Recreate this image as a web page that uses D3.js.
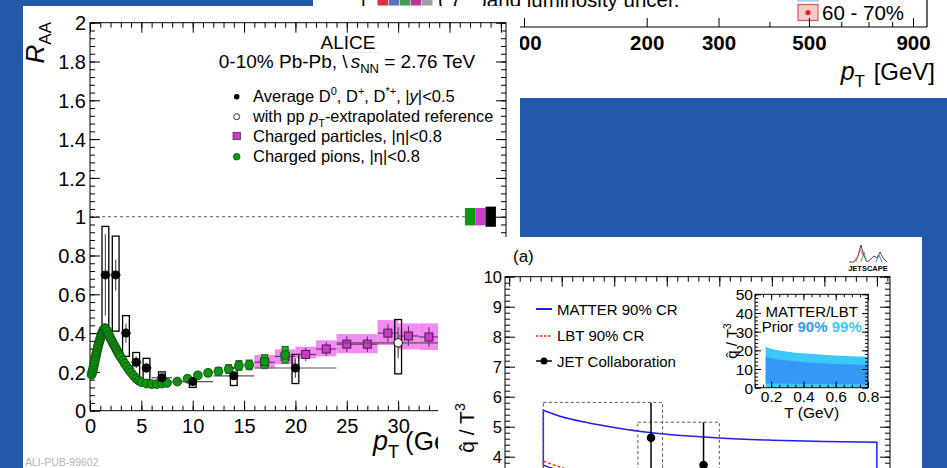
<!DOCTYPE html>
<html><head><meta charset="utf-8">
<script src="https://cdn.jsdelivr.net/npm/d3@7/dist/d3.min.js"></script>
<style>
html,body{margin:0;padding:0;background:#2259aa;}
svg{display:block}
text{font-family:"Liberation Sans",Arial,Helvetica,sans-serif;white-space:pre;}
</style></head><body>
<svg id="chart" width="947" height="468"></svg>
<script>
// ================= DATA =================
// --- top-right (partially hidden) panel, log pT axis ---
const trTickValues = [100,200,300,400,500,600,700,800,900];
const trTickLabels = ["100","200","300","","500","","","","900"];
const trLumiColors = ["#e3313b","#5a6fb6","#3e9c4e","#b9349a","#9e9e9e"];
const trLegendLabel = "60 - 70%";

// --- ALICE R_AA panel ---
const aliceYTicks = [0,0.2,0.4,0.6,0.8,1,1.2,1.4,1.6,1.8,2];
const aliceXTicks = [0,5,10,15,20,25,30,35,40];
// Average D0, D+, D*+
const dPt    = [1.5,2.5,3.5,4.5,5.5,7,10,14,20];
const dVal   = [0.70,0.70,0.40,0.25,0.22,0.17,0.15,0.18,0.22];
const dXlo   = [1,2,3,4,5,6,8,12,16];
const dXhi   = [2,3,4,5,6,8,12,16,24];
const dStat  = [0.21,0.08,0.05,0.03,0.025,0.02,0.015,0.02,0.05];
const dSysLo = [0.41,0.41,0.28,0.18,0.16,0.14,0.12,0.13,0.14];
const dSysHi = [0.95,0.90,0.49,0.30,0.27,0.20,0.17,0.22,0.29];
// with pp pT-extrapolated reference
const refPt = [30], refVal = [0.35], refXlo = [24], refXhi = [36];
const refStat = [0.08], refSysLo = [0.19], refSysHi = [0.47];
// Charged pions
const pionPt  = [0.15,0.2,0.25,0.3,0.35,0.4,0.45,0.5,0.55,0.6,0.65,0.7,0.75,0.8,0.85,0.9,0.95,1.0,1.05,1.1,1.15,1.2,1.25,1.3,1.35,1.4,1.45,1.5,1.6,1.7,1.8,1.9,2.0,2.1,2.2,2.3,2.4,2.5,2.6,2.7,2.8,2.9,3.0,3.2,3.4,3.6,3.8,4.0,4.25,4.5,4.75,5.0,5.5,6.0,6.5,7.0,7.5,8.5,9.5,10.5,11.5,12.5,13.5,14.5,15.5,17,19];
const pionVal = [0.185,0.195,0.205,0.215,0.228,0.24,0.252,0.265,0.278,0.29,0.302,0.313,0.325,0.335,0.345,0.355,0.363,0.372,0.38,0.388,0.395,0.402,0.408,0.414,0.419,0.423,0.425,0.424,0.418,0.408,0.396,0.384,0.372,0.362,0.352,0.342,0.333,0.323,0.313,0.303,0.293,0.284,0.275,0.258,0.242,0.226,0.21,0.196,0.18,0.165,0.155,0.147,0.14,0.137,0.137,0.14,0.143,0.15,0.165,0.182,0.195,0.203,0.215,0.233,0.236,0.253,0.288];
const pionSysPt  = [9.5,10.5,11.5,12.5,13.5,14.5,15.5,17,19];
const pionSysVal = [0.165,0.182,0.195,0.203,0.215,0.233,0.236,0.253,0.288];
const pionSysErr = [0.014,0.016,0.018,0.02,0.022,0.025,0.025,0.036,0.043];
// Charged particles
const chPt    = [17,19,21,23,25,27,29,31,33,35,38];
const chXlo   = [16,18,20,22,24,26,28,30,32,34,36];
const chXhi   = [18,20,22,24,26,28,30,32,34,36,40];
const chVal   = [0.25,0.28,0.29,0.318,0.343,0.343,0.40,0.385,0.38,0.39,0.40];
const chStat  = [0.01,0.012,0.014,0.016,0.02,0.02,0.025,0.03,0.03,0.035,0.04];
const chSysLo = [0.218,0.24,0.27,0.28,0.296,0.296,0.339,0.316,0.313,0.32,0.33];
const chSysHi = [0.287,0.316,0.33,0.363,0.395,0.395,0.467,0.45,0.45,0.455,0.465];
// normalisation boxes at unity: pions, charged, D
const normLabels = ["pions","charged","D"];
const normHalf = [0.045,0.045,0.052];
const normColors = ["#129612","#cc3fcc","#000"];

// --- JETSCAPE panel ---
const jetYTicks = [0,1,2,3,4,5,6,7,8,9,10];
const jetT      = [0.37,0.47];
const jetVal    = [4.63,3.72];
const jetErrHi  = [5.8,5.15];
const jetErrLo  = [3.4,2.3];
const jetBoxTlo = [0.165,0.345];
const jetBoxThi = [0.392,0.50];
const jetBoxHi  = [5.81,5.15];
const jetBoxLo  = [3.3,2.2];
const bandT     = [0.165,0.2,0.25,0.3,0.35,0.4,0.45,0.5,0.6,0.7,0.8];
const matterHi  = [5.55,5.33,5.13,4.97,4.84,4.75,4.68,4.62,4.55,4.51,4.48];
const matterLo  = [3.72,3.5,3.25,3.1,3.0,2.93,2.88,2.84,2.79,2.75,2.73];
const lbtHi     = [3.85,3.64,3.4,3.25,3.15,3.08,3.02,2.98,2.92,2.88,2.85];
const lbtLo     = [2.6,2.45,2.3,2.2,2.12,2.06,2.02,1.99,1.95,1.92,1.9];
// inset: prior bands
const inYTicks = [0,10,20,30,40,50];
const inXTicks = [0.2,0.4,0.6,0.8];
const inT      = [0.166,0.2,0.3,0.4,0.5,0.6,0.7,0.8];
const in99Hi   = [21.9,20.8,19.3,18.4,17.8,17.3,16.9,16.6];
const in99Lo   = [0.4,0.4,0.4,0.4,0.4,0.4,0.4,0.4];
const in90Hi   = [16.6,15.8,14.6,13.8,13.1,12.7,12.4,12.1];
const in90Lo   = [2.3,2.2,2.1,2.0,2.0,1.9,1.9,1.9];

// ================= HELPERS =================
const svg = d3.select("#chart");
const defs = svg.append("defs");
function clip(id, x, y, w, h) {
  defs.append("clipPath").attr("id", id).append("rect").attr("x",x).attr("y",y).attr("width",w).attr("height",h);
}
function rich(parent, x, y, segs, o) {
  o = o || {};
  const g = parent.append("g");
  let cx = 0;
  const size = o.size || 16;
  const out = [];
  segs.forEach(s0 => {
    const s = (typeof s0 === "string") ? {t: s0} : Object.assign({}, s0);
    const fs = s.size || size;
    const t = g.append("text").attr("x", cx).attr("y", s.dy || 0).attr("font-size", fs).text(s.t);
    if (s.it) t.attr("font-style","italic");
    if (s.b) t.attr("font-weight","bold");
    t.attr("fill", s.fill || o.fill || "#000");
    if (o.family) t.attr("font-family", o.family);
    const w = t.node().getComputedTextLength();
    s._x = cx; s._w = w;
    out.push(s);
    cx += w + (s.gap || 0);
  });
  let off = 0;
  if (o.anchor === "middle") off = -cx/2;
  if (o.anchor === "end") off = -cx;
  if (o.rotate) g.attr("transform", `translate(${x},${y}) rotate(${o.rotate}) translate(${off},0)`);
  else g.attr("transform", `translate(${x+off},${y})`);
  return {g, width: cx, segs: out, x0: x + off};
}
function styleAxis(sel, fs, opts) {
  opts = opts || {};
  sel.select(".domain").remove();
  sel.attr("font-family", null).attr("font-size", null);
  sel.selectAll("text").attr("font-size", fs).attr("fill","#000")
     .attr("font-weight", opts.bold ? "bold" : null);
  sel.selectAll("line").attr("stroke","#000").attr("stroke-width", opts.sw || 1);
}

svg.append("rect").attr("width",947).attr("height",468).attr("fill","#2259aa");

// ================= TOP-RIGHT PANEL =================
clip("clipTR", 313, 0, 634, 98);
const tr = svg.append("g").attr("clip-path","url(#clipTR)");
tr.append("rect").attr("x",313).attr("y",0).attr("width",634).attr("height",98).attr("fill","#fff");
const xTR = d3.scaleLog().domain([100,900]).range([524,913]);
const trAxisY = 27;
// cut text line at the very top
tr.append("text").attr("x",361).attr("y",7).attr("font-size",20).text("[");
const sqX = d3.scaleBand().domain(d3.range(trLumiColors.length)).range([377,433]).padding(0.05);
tr.selectAll(".lum").data(trLumiColors).enter().append("rect")
  .attr("x",(d,i)=>sqX(i)).attr("y",-6).attr("width",sqX.bandwidth()).attr("height",11.5)
  .attr("fill",d=>d);
tr.append("text").attr("x",438).attr("y",7).attr("font-size",20).text("( 7");
tr.append("text").attr("x",480).attr("y",7).attr("font-size",20.5).text(")and luminosity uncer.");
// legend fragments
tr.append("rect").attr("x",798).attr("y",-14).attr("width",20).attr("height",15).attr("fill","#dde8f8").attr("stroke","#99b3dd");
tr.append("rect").attr("x",798).attr("y",4.5).attr("width",20).attr("height",16).attr("fill","#f7cbc5").attr("stroke","#e05555").attr("stroke-width",1.2);
tr.append("circle").attr("cx",808).attr("cy",12.5).attr("r",2.6).attr("fill","#e02020");
tr.append("text").attr("x",822).attr("y",20).attr("font-size",20.5).text(trLegendLabel);
// axis
tr.append("line").attr("x1",313).attr("x2",927).attr("y1",trAxisY).attr("y2",trAxisY).attr("stroke","#000").attr("stroke-width",1.2);
tr.append("line").attr("x1",927).attr("x2",927).attr("y1",0).attr("y2",trAxisY).attr("stroke","#000").attr("stroke-width",1.2);
const trAx = tr.append("g").attr("transform",`translate(0,${trAxisY})`)
  .call(d3.axisBottom(xTR).tickValues(trTickValues).tickSize(-5).tickPadding(8).tickFormat((d,i)=>trTickLabels[i]));
styleAxis(trAx, 20.5, {bold:true});
trAx.selectAll(".tick line").attr("y2", (d,i)=> trTickLabels[i] ? -9 : -5);
rich(tr, 935, 80, [{t:"p", it:true, size:25}, {t:"T", size:17, dy:7, gap:2}, {t:" [GeV]", size:24}], {anchor:"end"});

// ================= ALICE PANEL =================
clip("clipAL", 23, 6, 497, 462);
const al = svg.append("g").attr("clip-path","url(#clipAL)");
al.append("rect").attr("x",23).attr("y",6).attr("width",497).attr("height",462).attr("fill","#fff");
const xA = d3.scaleLinear().domain([0,40.5]).range([90,506]);
const yA = d3.scaleLinear().domain([0,2]).range([410.7,22.7]);
// frame
al.append("rect").attr("x",xA(0)).attr("y",yA(2)).attr("width",xA(40.5)-xA(0)).attr("height",yA(0)-yA(2))
  .attr("fill","none").attr("stroke","#000").attr("stroke-width",1);
const minorX = d3.range(0,41,1), minorY = d3.range(0,2.001,0.04);
let g;
g = al.append("g").attr("transform",`translate(0,${yA(0)})`).call(d3.axisBottom(xA).tickValues(minorX).tickSize(-5).tickFormat("")); styleAxis(g,0);
g = al.append("g").attr("transform",`translate(0,${yA(0)})`).call(d3.axisBottom(xA).tickValues(aliceXTicks).tickSize(-10).tickPadding(8).tickFormat(d3.format("d"))); styleAxis(g,20);
g = al.append("g").attr("transform",`translate(0,${yA(2)})`).call(d3.axisTop(xA).tickValues(minorX).tickSize(-5).tickFormat("")); styleAxis(g,0);
g = al.append("g").attr("transform",`translate(0,${yA(2)})`).call(d3.axisTop(xA).tickValues(aliceXTicks).tickSize(-10).tickFormat("")); styleAxis(g,0);
g = al.append("g").attr("transform",`translate(${xA(0)},0)`).call(d3.axisLeft(yA).tickValues(minorY).tickSize(-5).tickFormat("")); styleAxis(g,0);
g = al.append("g").attr("transform",`translate(${xA(0)},0)`).call(d3.axisLeft(yA).tickValues(aliceYTicks).tickSize(-10).tickPadding(4)
  .tickFormat(d => Number.isInteger(d) ? String(d) : d.toFixed(1))); styleAxis(g,20);
g.selectAll("text").attr("dy","0.36em");
g = al.append("g").attr("transform",`translate(${xA(40.5)},0)`).call(d3.axisRight(yA).tickValues(minorY).tickSize(-5).tickFormat("")); styleAxis(g,0);
g = al.append("g").attr("transform",`translate(${xA(40.5)},0)`).call(d3.axisRight(yA).tickValues(aliceYTicks).tickSize(-10).tickFormat("")); styleAxis(g,0);

// unity dashed line
al.append("line").attr("x1",xA(0)).attr("x2",xA(36.5)).attr("y1",yA(1)).attr("y2",yA(1))
  .attr("stroke","#333").attr("stroke-width",0.8).attr("stroke-dasharray","3,3");
// normalisation boxes
const nbX = d3.scaleBand().domain(normLabels).range([xA(36.5), xA(36.5)+31]);
al.selectAll(".norm").data(normLabels).enter().append("rect")
  .attr("x",d=>nbX(d)).attr("width",nbX.bandwidth())
  .attr("y",(d,i)=>yA(1+normHalf[i])).attr("height",(d,i)=>yA(1-normHalf[i])-yA(1+normHalf[i]))
  .attr("fill",(d,i)=>normColors[i]);

// charged particles sys bands
al.selectAll(".chband").data(chPt).enter().append("rect")
  .attr("x",(d,i)=>xA(chXlo[i])).attr("width",(d,i)=>xA(chXhi[i])-xA(chXlo[i]))
  .attr("y",(d,i)=>yA(chSysHi[i])).attr("height",(d,i)=>yA(chSysLo[i])-yA(chSysHi[i]))
  .attr("fill","#f38af3");
// D sys boxes
const boxHalf = 0.33;
al.selectAll(".dbox").data(dPt).enter().append("rect")
  .attr("x",d=>xA(d-boxHalf)).attr("width",2*(xA(boxHalf)-xA(0)))
  .attr("y",(d,i)=>yA(dSysHi[i])).attr("height",(d,i)=>yA(dSysLo[i])-yA(dSysHi[i]))
  .attr("fill","none").attr("stroke","#000").attr("stroke-width",1.3);
al.selectAll(".rbox").data(refPt).enter().append("rect")
  .attr("x",d=>xA(d-boxHalf)).attr("width",2*(xA(boxHalf)-xA(0)))
  .attr("y",(d,i)=>yA(refSysHi[i])).attr("height",(d,i)=>yA(refSysLo[i])-yA(refSysHi[i]))
  .attr("fill","none").attr("stroke","#000").attr("stroke-width",1.3);
// charged particles error bars + squares
al.selectAll(".chx").data(chPt).enter().append("line")
  .attr("x1",(d,i)=>xA(chXlo[i])).attr("x2",(d,i)=>xA(chXhi[i])).attr("y1",(d,i)=>yA(chVal[i])).attr("y2",(d,i)=>yA(chVal[i]))
  .attr("stroke","#552255").attr("stroke-width",1);
al.selectAll(".chy").data(chPt).enter().append("line")
  .attr("x1",d=>xA(d)).attr("x2",d=>xA(d)).attr("y1",(d,i)=>yA(chVal[i]+chStat[i]+0.02)).attr("y2",(d,i)=>yA(chVal[i]-chStat[i]-0.02))
  .attr("stroke","#552255").attr("stroke-width",1);
al.selectAll(".chm").data(chPt).enter().append("rect")
  .attr("x",d=>xA(d)-4).attr("y",(d,i)=>yA(chVal[i])-4).attr("width",8).attr("height",8)
  .attr("fill","#c83cc8").attr("stroke","#4a1a4a").attr("stroke-width",1);
// pion sys boxes
al.selectAll(".pbox").data(pionSysPt).enter().append("rect")
  .attr("x",d=>xA(d)-3).attr("width",6)
  .attr("y",(d,i)=>yA(pionSysVal[i]+pionSysErr[i])).attr("height",(d,i)=>yA(pionSysVal[i]-pionSysErr[i])-yA(pionSysVal[i]+pionSysErr[i]))
  .attr("fill","#1fb51f").attr("stroke","#0b6e0b").attr("stroke-width",1);
// pions
al.selectAll(".pion").data(pionPt).enter().append("circle")
  .attr("cx",d=>xA(d)).attr("cy",(d,i)=>yA(pionVal[i])).attr("r",4.4)
  .attr("fill","#149414").attr("stroke","#0a5a0a").attr("stroke-width",1);
// D error bars
al.selectAll(".dx").data(dPt).enter().append("line")
  .attr("x1",(d,i)=>xA(dXlo[i])).attr("x2",(d,i)=>xA(dXhi[i])).attr("y1",(d,i)=>yA(dVal[i])).attr("y2",(d,i)=>yA(dVal[i]))
  .attr("stroke","#555").attr("stroke-width",1.2);
al.selectAll(".dy").data(dPt).enter().append("line")
  .attr("x1",d=>xA(d)).attr("x2",d=>xA(d)).attr("y1",(d,i)=>yA(dVal[i]+dStat[i])).attr("y2",(d,i)=>yA(dVal[i]-dStat[i]))
  .attr("stroke","#555").attr("stroke-width",1.2);
al.selectAll(".rx").data(refPt).enter().append("line")
  .attr("x1",(d,i)=>xA(refXlo[i])).attr("x2",(d,i)=>xA(refXhi[i])).attr("y1",(d,i)=>yA(refVal[i])).attr("y2",(d,i)=>yA(refVal[i]))
  .attr("stroke","#555").attr("stroke-width",1.2);
al.selectAll(".ry").data(refPt).enter().append("line")
  .attr("x1",d=>xA(d)).attr("x2",d=>xA(d)).attr("y1",(d,i)=>yA(refVal[i]+refStat[i])).attr("y2",(d,i)=>yA(refVal[i]-refStat[i]))
  .attr("stroke","#555").attr("stroke-width",1.2);
al.selectAll(".dm").data(dPt).enter().append("circle")
  .attr("cx",d=>xA(d)).attr("cy",(d,i)=>yA(dVal[i])).attr("r",4.5).attr("fill","#000");
al.selectAll(".rm").data(refPt).enter().append("circle")
  .attr("cx",d=>xA(d)).attr("cy",(d,i)=>yA(refVal[i])).attr("r",4.2).attr("fill","#fff").attr("stroke","#000").attr("stroke-width",1);

// texts
rich(al, 44, 22, [{t:"R", it:true, size:26}, {t:"AA", size:17, dy:7}], {anchor:"end", rotate:-90});
rich(al, 348, 49, ["ALICE"], {anchor:"middle", size:19});
const ttl = rich(al, 347, 68, ["0-10% Pb-Pb, ", {t:"\\", gap:3}, {t:"s", it:true}, {t:"NN", size:13, dy:5}, " = 2.76 TeV"], {anchor:"middle", size:19});
{
  const s2 = ttl.segs[2], s3 = ttl.segs[3];
  al.append("line").attr("x1", ttl.x0 + s2._x - 1).attr("x2", ttl.x0 + s3._x + s3._w + 1)
    .attr("y1", 68-15.5).attr("y2", 68-15.5).attr("stroke","#dedede").attr("stroke-width",0.7);
}
const legX = 236.7, legTX = 253;
al.append("circle").attr("cx",legX).attr("cy",96.7).attr("r",2.8).attr("fill","#000");
rich(al, legTX, 102, ["Average D", {t:"0", size:11, dy:-7}, ", D", {t:"+", size:11, dy:-7}, ", D", {t:"*+", size:11, dy:-7}, ", |", {t:"y", it:true}, "|<0.5"], {size:16.5});
al.append("circle").attr("cx",legX).attr("cy",116.7).attr("r",3).attr("fill","#fff").attr("stroke","#000").attr("stroke-width",0.8);
rich(al, legTX, 122, ["with pp ", {t:"p", it:true}, {t:"T", size:11, dy:5}, "-extrapolated reference"], {size:16.3});
al.append("rect").attr("x",legX-3.7).attr("y",136-3.7).attr("width",7.4).attr("height",7.4).attr("fill","#c83cc8").attr("stroke","#4a1a4a").attr("stroke-width",0.7);
rich(al, legTX, 141.5, ["Charged particles, |\u03b7|<0.8"], {size:16.5});
al.append("circle").attr("cx",legX).attr("cy",156.7).attr("r",3.4).attr("fill","#149414").attr("stroke","#0a5a0a").attr("stroke-width",0.7);
rich(al, legTX, 162, ["Charged pions, |\u03b7|<0.8"], {size:16.5});
rich(al, 373, 450, [{t:"p", it:true, size:27}, {t:"T", size:18, dy:8, gap:6}, {t:"(GeV/", size:26}, {t:"c", it:true, size:26}, {t:")", size:26}], {});
al.append("text").attr("x",25).attr("y",466).attr("font-size",10.5).attr("font-family","'Liberation Mono','DejaVu Sans Mono',monospace")
  .attr("fill","#b4b4b4").text("ALI-PUB-99602");

// ================= JETSCAPE PANEL =================
clip("clipJS", 438, 237, 484, 231);
const js = svg.append("g").attr("clip-path","url(#clipJS)");
js.append("rect").attr("x",438).attr("y",237).attr("width",484).attr("height",231).attr("fill","#fff");
const xJ = d3.scaleLinear().domain([0.092,0.825]).range([505,890]);
const yJ = d3.scaleLinear().domain([0,10]).range([576.7,276.7]);
js.append("rect").attr("x",xJ(0.092)).attr("y",yJ(10)).attr("width",xJ(0.825)-xJ(0.092)).attr("height",yJ(0)-yJ(10))
  .attr("fill","none").attr("stroke","#000").attr("stroke-width",1);
const jMinY = d3.range(0,10.001,0.2), jMinX = d3.range(0.1,0.821,0.02), jMajX = d3.range(0.1,0.81,0.1);
g = js.append("g").attr("transform",`translate(${xJ(0.092)},0)`).call(d3.axisLeft(yJ).tickValues(jMinY).tickSize(-5).tickFormat("")); styleAxis(g,0);
g = js.append("g").attr("transform",`translate(${xJ(0.092)},0)`).call(d3.axisLeft(yJ).tickValues(jetYTicks).tickSize(-10).tickPadding(3).tickFormat(d3.format("d"))); styleAxis(g,16.5);
g.selectAll("text").attr("dy","0.36em");
g = js.append("g").attr("transform",`translate(${xJ(0.825)},0)`).call(d3.axisRight(yJ).tickValues(jMinY).tickSize(-5).tickFormat("")); styleAxis(g,0);
g = js.append("g").attr("transform",`translate(${xJ(0.825)},0)`).call(d3.axisRight(yJ).tickValues(jetYTicks).tickSize(-10).tickFormat("")); styleAxis(g,0);
g = js.append("g").attr("transform",`translate(0,${yJ(10)})`).call(d3.axisTop(xJ).tickValues(jMinX).tickSize(-5).tickFormat("")); styleAxis(g,0);
g = js.append("g").attr("transform",`translate(0,${yJ(10)})`).call(d3.axisTop(xJ).tickValues(jMajX).tickSize(-10).tickFormat("")); styleAxis(g,0);

rich(js, 474, 428, [{t:"q\u0302", size:21}, {t:" / T", size:21}, {t:"3", size:14, dy:-9}], {anchor:"middle", rotate:-90});
rich(js, 513, 262, ["(a)"], {size:17});

// bands
js.append("path").attr("d", (()=>{
  const l = d3.line().curve(d3.curveMonotoneX);
  const top = l(bandT.map((t,i)=>[xJ(t), yJ(matterHi[i])]));
  const bot = l(bandT.map((t,i)=>[xJ(t), yJ(matterLo[i])]).reverse());
  return top + bot.replace(/^M/,"L") + "Z";
})()).attr("fill","none").attr("stroke","#1f1fee").attr("stroke-width",1.5);
js.append("path").attr("d", (()=>{
  const l = d3.line().curve(d3.curveMonotoneX);
  const top = l(bandT.map((t,i)=>[xJ(t), yJ(lbtHi[i])]));
  const bot = l(bandT.map((t,i)=>[xJ(t), yJ(lbtLo[i])]).reverse());
  return top + bot.replace(/^M/,"L") + "Z";
})()).attr("fill","none").attr("stroke","#ff2020").attr("stroke-width",1.3).attr("stroke-dasharray","3,2");
// JET boxes
js.selectAll(".jbox").data(jetT).enter().append("rect")
  .attr("x",(d,i)=>xJ(jetBoxTlo[i])).attr("width",(d,i)=>xJ(jetBoxThi[i])-xJ(jetBoxTlo[i]))
  .attr("y",(d,i)=>yJ(jetBoxHi[i])).attr("height",(d,i)=>yJ(jetBoxLo[i])-yJ(jetBoxHi[i]))
  .attr("fill","none").attr("stroke","#555").attr("stroke-width",1).attr("stroke-dasharray","3,2.5");
js.selectAll(".jerr").data(jetT).enter().append("line")
  .attr("x1",d=>xJ(d)).attr("x2",d=>xJ(d)).attr("y1",(d,i)=>yJ(jetErrHi[i])).attr("y2",(d,i)=>yJ(jetErrLo[i]))
  .attr("stroke","#000").attr("stroke-width",1.5);
js.selectAll(".jpt").data(jetT).enter().append("circle")
  .attr("cx",d=>xJ(d)).attr("cy",(d,i)=>yJ(jetVal[i])).attr("r",4.3).attr("fill","#000");
// legend
js.append("line").attr("x1",536).attr("x2",552).attr("y1",309).attr("y2",309).attr("stroke","#1f1fee").attr("stroke-width",2);
rich(js, 557, 314.5, ["MATTER 90% CR"], {size:15});
js.append("line").attr("x1",536).attr("x2",552).attr("y1",336).attr("y2",336).attr("stroke","#ff2020").attr("stroke-width",1.5).attr("stroke-dasharray","2.5,1.5");
rich(js, 557, 341, ["LBT 90% CR"], {size:15});
js.append("line").attr("x1",536).attr("x2",552).attr("y1",361).attr("y2",361).attr("stroke","#000").attr("stroke-width",1.5);
js.append("circle").attr("cx",544).attr("cy",361).attr("r",3.5).attr("fill","#000");
rich(js, 557, 366.5, ["JET Collaboration"], {size:15});

// JETSCAPE logo
js.append("polyline").attr("points","849,262 854,262 858,256 861,245 864,256 867,262 871,259 874,256 877,258 880,252 883,258 887,262")
  .attr("fill","none").attr("stroke","#333").attr("stroke-width",0.9);
js.append("polyline").attr("points","856,262 860,250 863,255").attr("fill","none").attr("stroke","#e04040").attr("stroke-width",0.8);
js.append("polyline").attr("points","861,262 864,252 866,260").attr("fill","none").attr("stroke","#30a030").attr("stroke-width",0.8);
js.append("polyline").attr("points","876,262 879,255 882,262").attr("fill","none").attr("stroke","#3060e0").attr("stroke-width",0.8);
js.append("text").attr("x",868).attr("y",270.5).attr("text-anchor","middle").attr("font-size",7.5).attr("font-weight","bold")
  .attr("font-family","'DejaVu Sans Condensed','DejaVu Sans',sans-serif").text("JETSCAPE");

// inset
const xI = d3.scaleLinear().domain([0.1,0.8]).range([755,868]);
const yI = d3.scaleLinear().domain([0,50]).range([387.7,294.3]);
const area = d3.area().x((d,i)=>xI(inT[i])).curve(d3.curveMonotoneX);
js.append("path").datum(inT).attr("d", area.y0((d,i)=>yI(in99Lo[i])).y1((d,i)=>yI(in99Hi[i]))).attr("fill","#3cc8f8");
js.append("path").datum(inT).attr("d", area.y0((d,i)=>yI(in90Lo[i])).y1((d,i)=>yI(in90Hi[i]))).attr("fill","#3399f5");
js.append("rect").attr("x",xI(0.1)).attr("y",yI(50)).attr("width",xI(0.8)-xI(0.1)).attr("height",yI(0)-yI(50))
  .attr("fill","none").attr("stroke","#000").attr("stroke-width",1);
const iMinY = d3.range(0,50.1,2), iMinX = d3.range(0.1,0.801,0.05);
g = js.append("g").attr("transform",`translate(${xI(0.1)},0)`).call(d3.axisLeft(yI).tickValues(iMinY).tickSize(-3).tickFormat("")); styleAxis(g,0);
g = js.append("g").attr("transform",`translate(${xI(0.1)},0)`).call(d3.axisLeft(yI).tickValues(inYTicks).tickSize(-6).tickPadding(2).tickFormat(d3.format("d"))); styleAxis(g,15.5);
g.selectAll("text").attr("dy","0.36em");
g = js.append("g").attr("transform",`translate(${xI(0.8)},0)`).call(d3.axisRight(yI).tickValues(iMinY).tickSize(-3).tickFormat("")); styleAxis(g,0);
g = js.append("g").attr("transform",`translate(${xI(0.8)},0)`).call(d3.axisRight(yI).tickValues(inYTicks).tickSize(-6).tickFormat("")); styleAxis(g,0);
g = js.append("g").attr("transform",`translate(0,${yI(0)})`).call(d3.axisBottom(xI).tickValues(iMinX).tickSize(-3).tickFormat("")); styleAxis(g,0);
g = js.append("g").attr("transform",`translate(0,${yI(0)})`).call(d3.axisBottom(xI).tickValues(inXTicks).tickSize(-6).tickPadding(3).tickFormat(d3.format(".1f"))); styleAxis(g,15.5);
g = js.append("g").attr("transform",`translate(0,${yI(50)})`).call(d3.axisTop(xI).tickValues(iMinX).tickSize(-3).tickFormat("")); styleAxis(g,0);
g = js.append("g").attr("transform",`translate(0,${yI(50)})`).call(d3.axisTop(xI).tickValues(inXTicks).tickSize(-6).tickFormat("")); styleAxis(g,0);
rich(js, 811.7, 418, ["T (GeV)"], {anchor:"middle", size:15.5});
rich(js, 737, 341, [{t:"q\u0302", size:15}, {t:" / T", size:15}, {t:"3", size:10, dy:-6}], {anchor:"middle", rotate:-90});
rich(js, 811.7, 316.5, ["MATTER/LBT"], {anchor:"middle", size:15});
rich(js, 811.7, 332, ["Prior ", {t:"90%", b:true, fill:"#3399f5"}, " ", {t:"99%", b:true, fill:"#3cc8f8"}], {anchor:"middle", size:15});
</script></body></html>
